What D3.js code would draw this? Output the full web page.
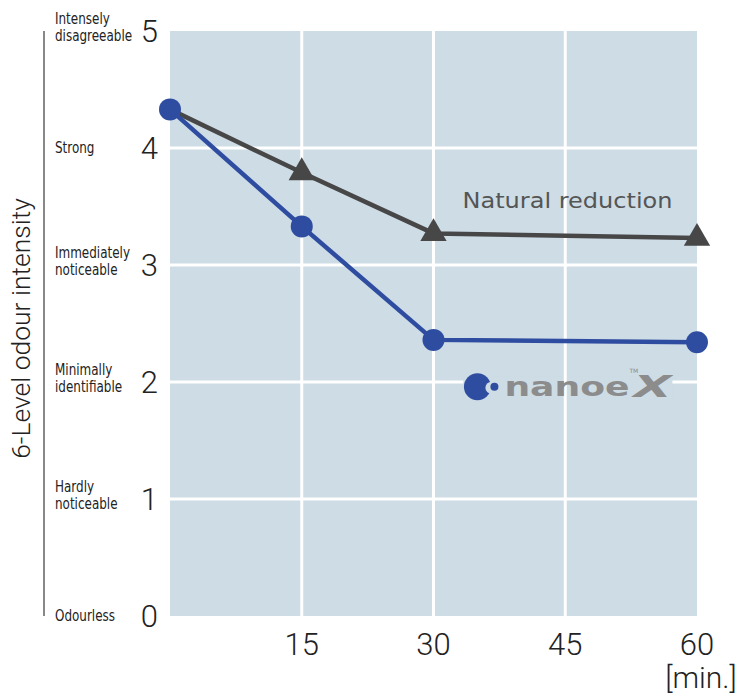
<!DOCTYPE html>
<html>
<head>
<meta charset="utf-8">
<script src="https://cdn.jsdelivr.net/npm/d3@7"></script>
<style>
  body { margin: 0; background: #fff; }
  svg { display: block; }
</style>
</head>
<body>
<div id="chart"></div>
<script>
// data
var minutes = [0, 15, 30, 60];
var nanoeValues = [4.33, 3.33, 2.36, 2.34];
var naturalValues = [4.33, 3.79, 3.27, 3.23];
var yTicks = [0, 1, 2, 3, 4, 5];
var xTicks = [15, 30, 45, 60];
var levelLabels = [
  ["Odourless"],
  ["Hardly", "noticeable"],
  ["Minimally", "identifiable"],
  ["Immediately", "noticeable"],
  ["Strong"],
  ["Intensely", "disagreeable"]
];

var WIDTH = 742, HEIGHT = 693;
var plotL = 170, plotR = 697, plotT = 31, plotB = 616;

var svg = d3.select('#chart').append('svg')
  .attr('width', WIDTH)
  .attr('height', HEIGHT);

var x = d3.scaleLinear().domain([0, 60]).range([plotL, plotR]);
var y = d3.scaleLinear().domain([0, 5]).range([plotB, plotT]);

var numFont = "Roboto, 'DejaVu Sans Condensed', sans-serif";
var labelFont = "'DejaVu Sans Condensed', sans-serif";

// plot background
svg.append('rect')
  .attr('x', plotL).attr('y', plotT)
  .attr('width', plotR - plotL).attr('height', plotB - plotT)
  .attr('fill', '#cddce5');

// horizontal grid
svg.selectAll('.hgrid')
  .data(yTicks.filter(function(d) { return d > 0 && d < 5; }))
  .enter().append('line')
  .attr('x1', plotL).attr('x2', plotR)
  .attr('y1', function(d) { return y(d); })
  .attr('y2', function(d) { return y(d); })
  .attr('stroke', '#fff').attr('stroke-width', 3);

// logo backing covers the grid line
svg.append('rect')
  .attr('x', x(33.4)).attr('y', y(2.05))
  .attr('width', x(57.2) - x(33.4)).attr('height', y(1.85) - y(2.05))
  .attr('fill', '#cddce5');

// vertical grid
svg.selectAll('.vgrid')
  .data(xTicks.filter(function(d) { return d < 60; }))
  .enter().append('line')
  .attr('y1', plotT).attr('y2', plotB)
  .attr('x1', function(d) { return x(d); })
  .attr('x2', function(d) { return x(d); })
  .attr('stroke', '#fff').attr('stroke-width', 3);

// left vertical rule
svg.append('line')
  .attr('x1', 44).attr('x2', 44)
  .attr('y1', plotT).attr('y2', plotB)
  .attr('stroke', '#111').attr('stroke-width', 1);

// y axis title
svg.append('text')
  .attr('transform', 'translate(30,' + ((plotT + plotB) / 2 + 5) + ') rotate(-90)')
  .attr('text-anchor', 'middle')
  .attr('font-family', numFont)
  .attr('font-weight', 300)
  .attr('font-size', 26.5)
  .attr('fill', '#222')
  .text('6-Level odour intensity');

// y tick numbers
svg.selectAll('.ytick')
  .data(yTicks)
  .enter().append('text')
  .attr('x', 158)
  .attr('y', function(d) { return y(d) + 11; })
  .attr('text-anchor', 'end')
  .attr('font-family', numFont)
  .attr('font-weight', 300)
  .attr('font-size', 31)
  .attr('fill', '#222')
  .text(function(d) { return d; });

// level labels (condensed)
var lab = svg.append('g')
  .attr('transform', 'translate(55,0) scale(0.86,1)')
  .selectAll('.level')
  .data(levelLabels)
  .enter().append('text')
  .attr('font-family', labelFont)
  .attr('font-size', 15.5)
  .attr('fill', '#222');
lab.each(function(lines, i) {
  var t = d3.select(this);
  var base = lines.length === 1 ? y(i) + 5 : y(i) - 7;
  lines.forEach(function(s, k) {
    t.append('tspan')
      .attr('x', 0)
      .attr('y', base + k * 17)
      .text(s);
  });
});

// x tick numbers
svg.selectAll('.xtick')
  .data(xTicks)
  .enter().append('text')
  .attr('x', function(d) { return x(d); })
  .attr('y', 655)
  .attr('text-anchor', 'middle')
  .attr('font-family', numFont)
  .attr('font-weight', 300)
  .attr('font-size', 31)
  .attr('fill', '#222')
  .text(function(d) { return d; });

svg.append('text')
  .attr('x', x(60) + 4)
  .attr('y', 688)
  .attr('text-anchor', 'middle')
  .attr('font-family', numFont)
  .attr('font-weight', 300)
  .attr('font-size', 30)
  .attr('fill', '#222')
  .text('[min.]');

// lines
var line = d3.line()
  .x(function(d, i) { return x(minutes[i]); })
  .y(function(d) { return y(d); });

svg.append('path')
  .attr('d', line(naturalValues))
  .attr('fill', 'none')
  .attr('stroke', '#474747')
  .attr('stroke-width', 4.5);

svg.selectAll('.tri')
  .data(naturalValues.slice(1))
  .enter().append('path')
  .attr('d', d3.symbol().type(d3.symbolTriangle).size(300))
  .attr('transform', function(d, i) {
    return 'translate(' + x(minutes[i + 1]) + ',' + y(d) + ')';
  })
  .attr('fill', '#474747');

svg.append('path')
  .attr('d', line(nanoeValues))
  .attr('fill', 'none')
  .attr('stroke', '#2f4da0')
  .attr('stroke-width', 4.5);

svg.selectAll('.dot')
  .data(nanoeValues)
  .enter().append('circle')
  .attr('cx', function(d, i) { return x(minutes[i]); })
  .attr('cy', function(d) { return y(d); })
  .attr('r', 11)
  .attr('fill', '#2f4da0');

// series label
svg.append('text')
  .attr('x', x(33.3))
  .attr('y', y(3.49))
  .attr('font-family', "'DejaVu Sans', sans-serif")
  .attr('font-size', 22)
  .attr('textLength', 210)
  .attr('lengthAdjust', 'spacingAndGlyphs')
  .attr('fill', '#555')
  .text('Natural reduction');

// nanoe X logo
var lx = x(35), ly = y(1.96);
svg.append('circle')
  .attr('cx', lx).attr('cy', ly).attr('r', 13.5)
  .attr('fill', '#2f4da0');
svg.append('circle')
  .attr('cx', lx + 14).attr('cy', ly + 1).attr('r', 6)
  .attr('fill', '#cddce5');
svg.append('circle')
  .attr('cx', lx + 17).attr('cy', ly).attr('r', 4)
  .attr('fill', '#2f4da0');
svg.append('text')
  .attr('x', lx + 27).attr('y', ly + 9)
  .attr('font-family', "'DejaVu Sans', sans-serif")
  .attr('font-weight', 'bold')
  .attr('font-size', 26)
  .attr('textLength', 125)
  .attr('lengthAdjust', 'spacingAndGlyphs')
  .attr('fill', '#8c8c8c')
  .text('nanoe');
svg.append('text')
  .attr('x', lx + 156).attr('y', ly + 10)
  .attr('font-family', "'DejaVu Sans', sans-serif")
  .attr('font-weight', 'bold')
  .attr('font-style', 'italic')
  .attr('font-size', 31)
  .attr('textLength', 38)
  .attr('lengthAdjust', 'spacingAndGlyphs')
  .attr('fill', '#8c8c8c')
  .text('X');
svg.append('text')
  .attr('x', lx + 152).attr('y', ly - 14)
  .attr('font-family', "'DejaVu Sans', sans-serif")
  .attr('font-size', 6)
  .attr('fill', '#8c8c8c')
  .text('TM');
</script>
</body>
</html>
